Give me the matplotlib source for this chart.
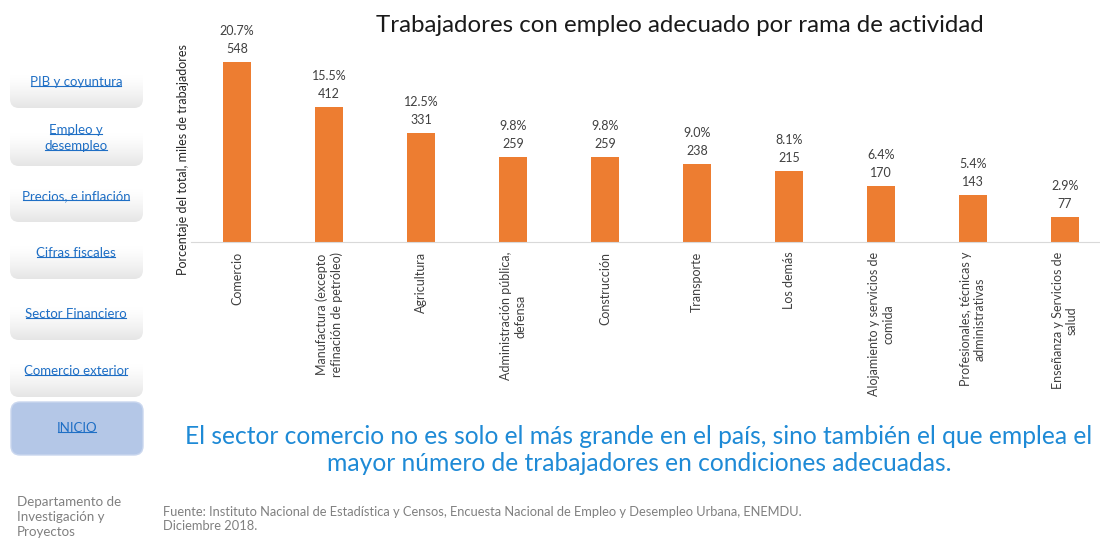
import matplotlib.pyplot as plt
import numpy as np
from matplotlib.patches import FancyBboxPatch

# datos
categorias = ['Comercio', 'Manufactura (excepto\nrefinación de petróleo)', 'Agricultura',
              'Administración pública,\ndefensa', 'Construcción', 'Transporte', 'Los demás',
              'Alojamiento y servicios de\ncomida', 'Profesionales, técnicas y\nadministrativas',
              'Enseñanza y Servicios de\nsalud']
miles = [548, 412, 331, 259, 259, 238, 215, 170, 143, 77]
porcentaje = [20.7, 15.5, 12.5, 9.8, 9.8, 9.0, 8.1, 6.4, 5.4, 2.9]

botones = [['PIB y coyuntura'], ['Empleo y', 'desempleo'], ['Precios, e inflación'],
           ['Cifras fiscales'], ['Sector Financiero'], ['Comercio exterior']]

plt.rcParams['font.family'] = ['Lato', 'DejaVu Sans']
W, H = 1100, 543
fig = plt.figure(figsize=(W / 100, H / 100), dpi=100)

# capa de fondo en pixeles
bg = fig.add_axes([0, 0, 1, 1])
bg.axis('off')

# degradado de los botones: blanco arriba, gris claro abajo
t = np.linspace(0, 1, 100)
nivel = 1 - 0.10 * np.clip((t - 0.35) / 0.65, 0, 1) ** 1.3
grad = np.dstack([nivel, nivel, nivel]).reshape(100, 1, 3)

tops = [58, 116, 172, 229, 290, 347]
links = []
for top, lineas in zip(tops, botones):
    caja = FancyBboxPatch((10, top), 133, 50, boxstyle='round,pad=0,rounding_size=9',
                          facecolor='none', edgecolor='none')
    bg.add_patch(caja)
    img = bg.imshow(grad, extent=(10, 143, top + 50, top), aspect='auto', origin='upper')
    img.set_clip_path(caja)
    for i, l in enumerate(lineas):
        yt = top + 24 if len(lineas) == 1 else top + 14 + 16 * i
        links.append(bg.text(76, yt, l, ha='center', va='center', fontsize=9.5, color='#1f6fc5'))

inicio = FancyBboxPatch((11, 402), 132, 53, boxstyle='round,pad=0,rounding_size=9',
                        facecolor='#b4c7e7', edgecolor='#c9d6ee', linewidth=1)
bg.add_patch(inicio)
links.append(bg.text(77, 428, 'INICIO', ha='center', va='center', fontsize=9.5, color='#1f6fc5'))
bg.set_xlim(0, W)
bg.set_ylim(H, 0)

# grafico principal
ax = fig.add_axes([191 / W, 1 - 242 / H, (W - 191) / W, 222 / H])
x = np.arange(len(categorias))
ax.bar(x, miles, width=0.31, color='#ed7d31')
ax.set_xlim(-0.5, 9.38)
ax.set_ylim(0, 222 / 0.3285)
for s in ['top', 'right', 'left']:
    ax.spines[s].set_visible(False)
ax.spines['bottom'].set_color('#d9d9d9')
ax.set_yticks([])
ax.set_xticks(x)
ax.set_xticklabels(categorias, rotation=90, fontsize=9, color='#404040',
                   multialignment='center', va='top')
ax.tick_params(axis='x', length=0, pad=7)

for xi, v, p in zip(x, miles, porcentaje):
    ax.annotate(str(v), (xi, v), xytext=(0, 5), textcoords='offset points',
                ha='center', va='bottom', fontsize=9, color='#404040')
    ax.annotate(f'{p:.1f}%', (xi, v), xytext=(0, 18), textcoords='offset points',
                ha='center', va='bottom', fontsize=9, color='#404040')

fig.text(183 / W, 1 - 160 / H, 'Porcentaje del total, miles de trabajadores', rotation=90,
         ha='center', va='center', fontsize=9, color='#262626')

fig.text(680 / W, 1 - 25 / H, 'Trabajadores con empleo adecuado por rama de actividad',
         ha='center', va='center', fontsize=17.3, color='#1a1a1a')

fig.text(639 / W, 1 - 450 / H,
         'El sector comercio no es solo el más grande en el país, sino también el que emplea el\n'
         'mayor número de trabajadores en condiciones adecuadas.',
         ha='center', va='center', fontsize=17.7, color='#1e8ad6', linespacing=1.17)

fig.text(17 / W, 1 - 517 / H, 'Departamento de\nInvestigación y\nProyectos', ha='left',
         va='center', fontsize=9.6, color='#808080', linespacing=1.35)
fig.text(163 / W, 1 - 519 / H,
         'Fuente: Instituto Nacional de Estadística y Censos, Encuesta Nacional de Empleo y '
         'Desempleo Urbana, ENEMDU.\nDiciembre 2018.', ha='left', va='center', fontsize=9.3,
         color='#808080', linespacing=1.25)

# subrayado de los enlaces
fig.canvas.draw()
r = fig.canvas.get_renderer()
for tx in links:
    bb = tx.get_window_extent(r)
    yline = H - bb.y0 - 2.5
    bg.plot([bb.x0 + 1, bb.x1 - 1], [yline, yline], color=tx.get_color(), linewidth=0.8)

fig.savefig('out.png', dpi=100)
